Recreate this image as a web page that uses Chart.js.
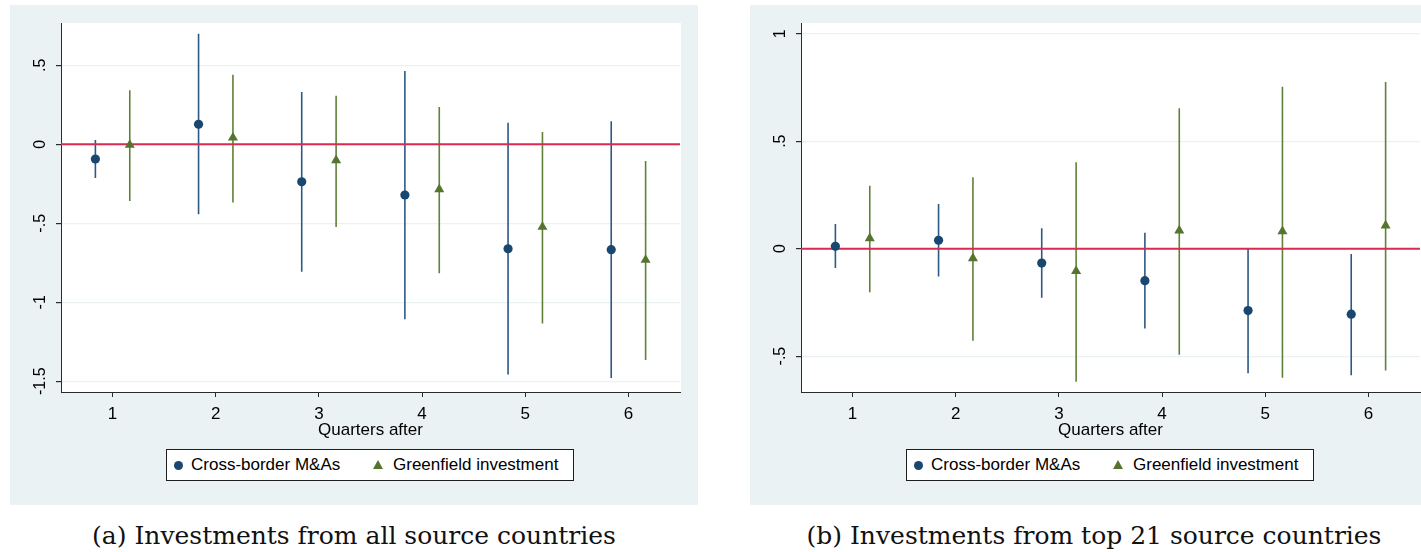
<!DOCTYPE html>
<html>
<head>
<meta charset="utf-8">
<script src="https://cdn.jsdelivr.net/npm/chart.js@4.4.0/dist/chart.umd.min.js"></script>
<style>
  html, body { margin: 0; padding: 0; }
  body { position: relative; width: 1421px; height: 552px; overflow: hidden; background: #fff; }
  .panel { position: absolute; top: 5px; width: 688px; height: 500px; background: #eaf2f3; }
  .panel canvas { position: absolute; left: 0; top: 0; }
  .legend { position: absolute; left: 156px; top: 444px; width: 408px; height: 32px; box-sizing: border-box;
            background: #fff; border: 1px solid #1e1e1e; font: 17px "Liberation Sans", Arial, sans-serif; color: #000; }
  .legend .lab { position: absolute; top: 0; line-height: 30px; white-space: nowrap; }
  .legend .dot { position: absolute; top: 11px; width: 9px; height: 9px; border-radius: 50%; }
  .legend .tri { position: absolute; top: 10px; width: 0; height: 0; border-left: 5px solid transparent;
                 border-right: 5px solid transparent; border-bottom: 9px solid; }
  .caption { position: absolute; top: 521px; width: 688px; text-align: center; line-height: 30px;
             font: 25px "DejaVu Serif", serif; color: #111; white-space: nowrap; }
</style>
</head>
<body>
<div class="panel" style="left:10px"><canvas id="chartA" width="688" height="500"></canvas><div class="legend" id="legendA"></div></div>
<div class="panel" style="left:750px"><canvas id="chartB" width="688" height="500"></canvas><div class="legend" id="legendB"></div></div>
<div class="caption" style="left:10px">(a) Investments from all source countries</div>
<div class="caption" style="left:750px">(b) Investments from top 21 source countries</div>

<script>
// Quarters on the x axis
const quarters = [1, 2, 3, 4, 5, 6];
const seriesNames = ['Cross-border M&As', 'Greenfield investment'];
const xTitle = 'Quarters after';

// (a) all source countries: point estimates and 95% CI bounds
const maA = [-0.093, 0.127, -0.237, -0.321, -0.661, -0.667];
const maALo = [-0.213, -0.443, -0.806, -1.108, -1.458, -1.479];
const maAHi = [0.027, 0.700, 0.331, 0.464, 0.137, 0.146];
const gfA = [-0.004, 0.042, -0.101, -0.285, -0.523, -0.732];
const gfALo = [-0.359, -0.369, -0.523, -0.817, -1.135, -1.365];
const gfAHi = [0.342, 0.440, 0.308, 0.236, 0.078, -0.106];
const yTicksA = [-1.5, -1, -0.5, 0, 0.5];

// (b) top 21 source countries
const maB = [0.011, 0.039, -0.067, -0.149, -0.288, -0.305];
const maBLo = [-0.090, -0.130, -0.228, -0.372, -0.580, -0.589];
const maBHi = [0.115, 0.208, 0.095, 0.074, 0.000, -0.025];
const gfB = [0.048, -0.045, -0.104, 0.084, 0.081, 0.107];
const gfBLo = [-0.203, -0.429, -0.619, -0.494, -0.601, -0.567];
const gfBHi = [0.293, 0.332, 0.402, 0.653, 0.753, 0.775];
const yTicksB = [-0.5, 0, 0.5, 1];

const NAVY = '#1a476f';
const NAVY_LINE = '#2d5985';
const GREEN = '#55752f';
const GREEN_LINE = '#60813a';
const RED = '#d92a52';
const AXIS = '#2a2a2a';
const GRID = '#eaf2f3';
const FONT = '"Liberation Sans", Arial, sans-serif';
const SHIFT = 1 / 6;

// Stata-style numbers: .5, -.5, -1.5
function fmt(v) {
  return v === 0 ? '0' : String(v).replace(/^(-?)0\./, '$1.');
}

function points(vals, dx) {
  return quarters.map((q, i) => ({ x: q + dx, y: vals[i] }));
}

// vertical CI segments, separated by gaps
function ciSegments(lo, hi, dx) {
  const out = [];
  quarters.forEach((q, i) => {
    out.push({ x: q + dx, y: lo[i] }, { x: q + dx, y: hi[i] }, { x: q + dx, y: null });
  });
  return out;
}

const plotBackground = {
  id: 'plotBackground',
  beforeDraw(chart) {
    const a = chart.chartArea, ctx = chart.ctx;
    ctx.save();
    ctx.fillStyle = '#fff';
    ctx.fillRect(a.left, a.top, a.right - a.left + 1, a.bottom - a.top);
    ctx.restore();
  }
};

// y tick labels read bottom-to-top
const verticalTickLabels = {
  id: 'verticalTickLabels',
  afterDraw(chart) {
    const s = chart.scales.y, ctx = chart.ctx;
    ctx.save();
    ctx.font = '16px ' + FONT;
    ctx.fillStyle = '#000';
    ctx.textAlign = 'center';
    ctx.textBaseline = 'middle';
    s.ticks.forEach(t => {
      ctx.save();
      ctx.translate(31, s.getPixelForValue(t.value));
      ctx.rotate(-Math.PI / 2);
      ctx.fillText(fmt(t.value), 0, 0);
      ctx.restore();
    });
    ctx.restore();
  }
};

function makeChart(id, ma, maLo, maHi, gf, gfLo, gfHi, yTicks, yMin, yMax) {
  return new Chart(document.getElementById(id), {
    type: 'scatter',
    data: {
      datasets: [
        { data: ciSegments(maLo, maHi, -SHIFT), showLine: true, spanGaps: false, borderColor: NAVY_LINE,
          borderWidth: 1.6, pointRadius: 0, order: 3 },
        { data: ciSegments(gfLo, gfHi, SHIFT), showLine: true, spanGaps: false, borderColor: GREEN_LINE,
          borderWidth: 1.6, pointRadius: 0, order: 3 },
        { data: [{ x: 0.5, y: 0 }, { x: 6.5, y: 0 }], showLine: true, borderColor: RED,
          borderWidth: 2, pointRadius: 0, order: 2 },
        { label: seriesNames[0], data: points(ma, -SHIFT), pointStyle: 'circle', pointRadius: 4.6,
          backgroundColor: NAVY, borderColor: NAVY, borderWidth: 0, order: 1 },
        { label: seriesNames[1], data: points(gf, SHIFT), pointStyle: 'triangle', pointRadius: 5.8,
          backgroundColor: GREEN, borderColor: GREEN, borderWidth: 0, order: 1 }
      ]
    },
    options: {
      responsive: false,
      animation: false,
      events: [],
      layout: { padding: { top: 18, right: 18, bottom: 64, left: 0 } },
      plugins: { legend: { display: false }, tooltip: { enabled: false } },
      scales: {
        x: {
          type: 'linear', min: 0.5, max: 6.5,
          afterBuildTicks: s => { s.ticks = quarters.map(v => ({ value: v })); },
          afterFit: s => { s.height = 49; },
          grid: { drawOnChartArea: false, tickLength: 5, tickColor: AXIS },
          border: { color: AXIS, width: 1 },
          ticks: { font: { family: FONT, size: 17 }, color: '#000', padding: 7, maxRotation: 0 },
          title: { display: true, text: xTitle, font: { family: FONT, size: 17 }, color: '#000',
                   padding: { top: 0, bottom: 0 } }
        },
        y: {
          min: yMin, max: yMax,
          afterBuildTicks: s => { s.ticks = yTicks.map(v => ({ value: v })); },
          afterFit: s => { s.width = 51; },
          grid: { color: GRID, lineWidth: 1.2, tickLength: 5, tickColor: AXIS },
          border: { color: AXIS, width: 1 },
          ticks: { display: false }
        }
      }
    },
    plugins: [plotBackground, verticalTickLabels]
  });
}

function fillLegend(id) {
  const el = document.getElementById(id);
  el.innerHTML =
    '<span class="dot" style="left:7px;background:' + NAVY + '"></span>' +
    '<span class="lab" style="left:24px"></span>' +
    '<span class="tri" style="left:206px;border-bottom-color:' + GREEN + '"></span>' +
    '<span class="lab" style="left:226px"></span>';
  const labs = el.querySelectorAll('.lab');
  labs[0].textContent = seriesNames[0];
  labs[1].textContent = seriesNames[1];
}

makeChart('chartA', maA, maALo, maAHi, gfA, gfALo, gfAHi, yTicksA, -1.568, 0.768);
makeChart('chartB', maB, maBLo, maBHi, gfB, gfBLo, gfBHi, yTicksB, -0.667, 1.05);
fillLegend('legendA');
fillLegend('legendB');
</script>
</body>
</html>
